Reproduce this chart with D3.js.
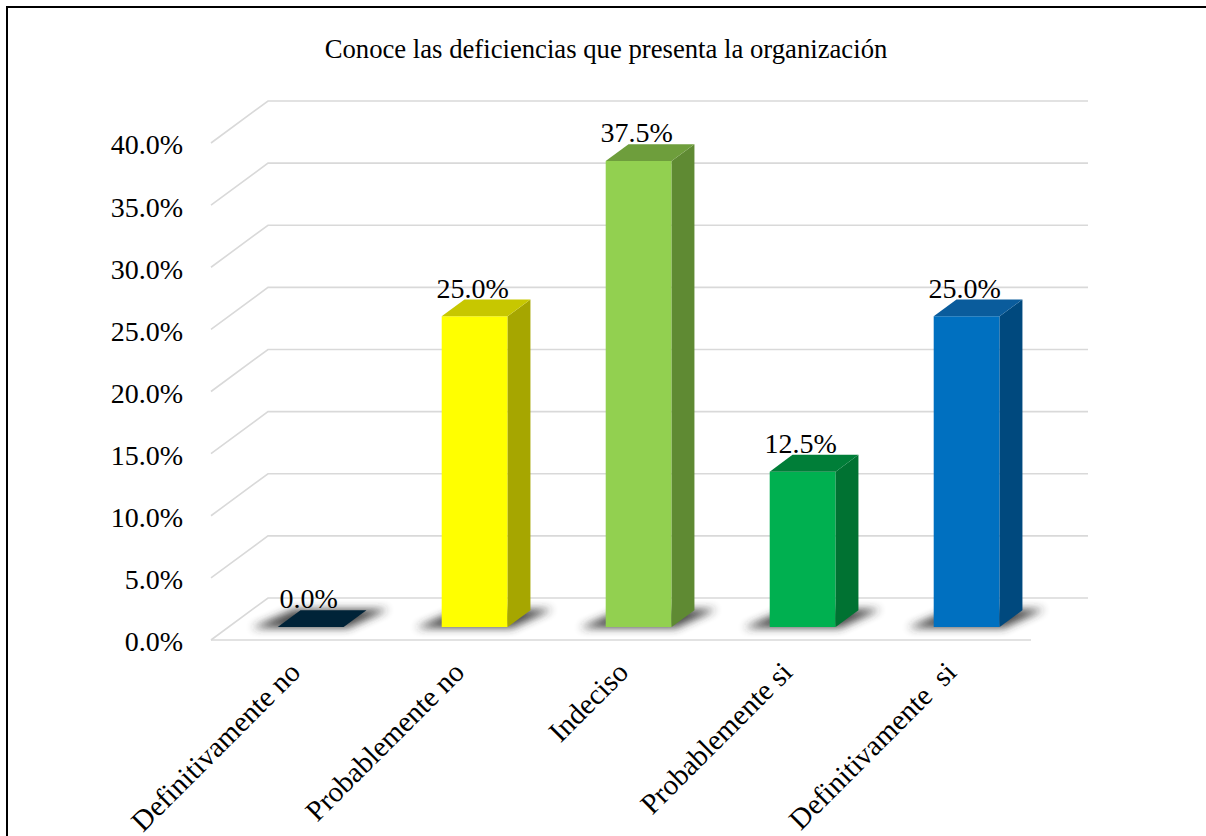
<!DOCTYPE html>
<html>
<head>
<meta charset="utf-8">
<script src="https://cdn.jsdelivr.net/npm/d3@7"></script>
<style>
  html, body { margin: 0; padding: 0; background: #ffffff; }
  svg { display: block; }
  text { font-family: "Liberation Serif", "Times New Roman", serif; fill: #000; }
</style>
</head>
<body>
<svg id="chart" width="1206" height="836"></svg>
<script>
// Survey answers and their shares (%)
const categories = ["Definitivamente no", "Probablemente no", "Indeciso", "Probablemente si", "Definitivamente  si"];
const values = [0.0, 25.0, 37.5, 12.5, 25.0];
const yTicks = [0, 5, 10, 15, 20, 25, 30, 35, 40];
const title = "Conoce las deficiencias que presenta la organización";

// Face colours of each column: front, side, top
const frontColors = ["#002338", "#FFFF00", "#92D050", "#00B050", "#0070C0"];
const sideColors  = ["#001a2a", "#A6A600", "#5F8A33", "#007232", "#00497E"];
const topColors   = ["#002338", "#C7C700", "#6E9E3C", "#007E38", "#0A5C9C"];

const svg = d3.select("#chart");
const W = 1206, H = 836;

// Outer frame
svg.append("rect")
  .attr("x", 7).attr("y", 7).attr("width", W + 10).attr("height", H + 10)
  .attr("fill", "none").attr("stroke", "#000").attr("stroke-width", 2);

// Title
svg.append("text")
  .attr("x", 606).attr("y", 58)
  .attr("text-anchor", "middle")
  .style("font-size", "26.7px")
  .text(title);

// Oblique projection: depth z in [0,1] shifts points right and up
const DX = 57, DY = -42;
const x = d3.scaleBand().domain(categories).range([211, 1031])
  .paddingInner(0.598).paddingOuter(0.299);
const y = d3.scaleLinear().domain([0, 40]).range([640, 143]);
const proj = (xf, v, z) => [xf + z * DX, y(v) + z * DY];
const Z0 = 0.31, Z1 = 0.71;

// Gridlines: left diagonal + back-wall horizontal
const grid = svg.append("g").attr("fill", "none").attr("stroke", "#d9d9d9").attr("stroke-width", 1.6);
const backRight = x.range()[1] + DX;
grid.selectAll("path.g").data(yTicks).join("path")
  .attr("class", "g")
  .attr("d", t => {
    const a = proj(x.range()[0], t, 0), b = proj(x.range()[0], t, 1);
    return `M${a[0]},${a[1]}L${b[0]},${b[1]}L${backRight},${b[1]}`;
  });
// Floor front edge
grid.append("path")
  .attr("d", () => {
    const a = proj(x.range()[0], 0, 0), b = proj(x.range()[1], 0, 0);
    return `M${a[0]},${a[1]}L${b[0]},${b[1]}`;
  });

// Y axis labels
const yAxis = d3.axisLeft(y).tickValues(yTicks)
  .tickFormat(d => d.toFixed(1) + "%").tickSize(0).tickPadding(28);
const ga = svg.append("g").attr("transform", `translate(${x.range()[0]},2)`).call(yAxis);
ga.select(".domain").remove();
ga.selectAll("text")
  .style("font-family", "'Liberation Serif', 'Times New Roman', serif")
  .style("font-size", "28px").attr("fill", "#000");

// Soft shadow under each column
const defs = svg.append("defs");
defs.append("filter").attr("id", "soft").attr("x", "-50%").attr("y", "-100%").attr("width", "200%").attr("height", "300%")
  .append("feGaussianBlur").attr("stdDeviation", 4);

const bw = x.bandwidth();
const data = categories.map((c, i) => ({ c, v: values[i], i }));
const poly = pts => pts.map(p => p.join(",")).join(" ");

svg.append("g").selectAll("polygon").data(data).join("polygon")
  .attr("points", d => {
    const xl = x(d.c), xr = xl + bw;
    const fl = proj(xl, 0, Z0), fr = proj(xr, 0, Z0), br = proj(xr, 0, Z1), bl = proj(xl, 0, Z1);
    return poly([[fl[0] - 26, fl[1] + 1], [fr[0] + 4, fr[1] + 1], [br[0] + 22, br[1] - 1], [bl[0] - 6, bl[1] - 1]]);
  })
  .attr("fill", "#2b2b2b").attr("opacity", 0.85).attr("filter", "url(#soft)");

// Columns
const bars = svg.append("g").selectAll("g").data(data).join("g");
bars.append("polygon")
  .attr("points", d => {
    const xl = x(d.c), xr = xl + bw;
    return poly([proj(xl, 0, Z0), proj(xr, 0, Z0), proj(xr, d.v, Z0), proj(xl, d.v, Z0)]);
  })
  .attr("fill", d => frontColors[d.i]);
bars.append("polygon")
  .attr("points", d => {
    const xr = x(d.c) + bw;
    return poly([proj(xr, 0, Z0), proj(xr, 0, Z1), proj(xr, d.v, Z1), proj(xr, d.v, Z0)]);
  })
  .attr("fill", d => sideColors[d.i]);
bars.append("polygon")
  .attr("points", d => {
    const xl = x(d.c), xr = xl + bw;
    return poly([proj(xl, d.v, Z0), proj(xr, d.v, Z0), proj(xr, d.v, Z1), proj(xl, d.v, Z1)]);
  })
  .attr("fill", d => topColors[d.i]);

// Value labels
svg.append("g").selectAll("text").data(data).join("text")
  .attr("x", d => proj(x(d.c) + bw / 2, d.v, Z0)[0] - 2)
  .attr("y", d => proj(x(d.c), d.v, Z1)[1] - 2)
  .attr("text-anchor", "middle")
  .style("font-size", "28px")
  .text(d => d.v.toFixed(1) + "%");

// Category labels, rotated
svg.append("g").selectAll("text").data(categories).join("text")
  .attr("transform", c => `translate(${x(c) + bw / 2 + 9},674) rotate(-45)`)
  .attr("text-anchor", "end")
  .style("font-size", "29px")
  .style("white-space", "pre")
  .text(c => c);
</script>
</body>
</html>
